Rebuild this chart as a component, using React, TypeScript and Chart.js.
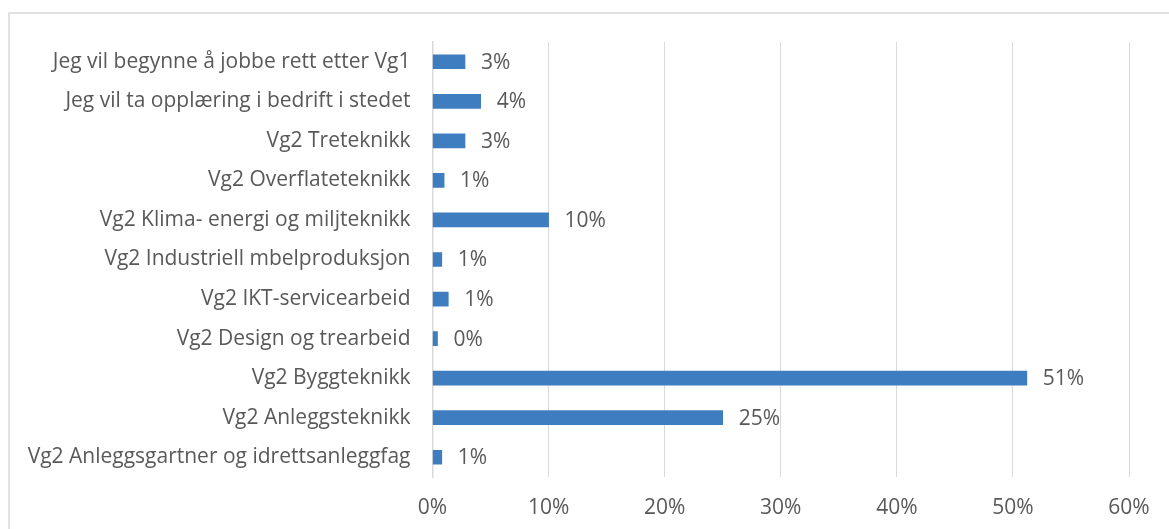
import React, { useEffect, useRef } from "react";
import { Chart, registerables } from "chart.js";

Chart.register(...registerables);

const categories = [
  "Jeg vil begynne å jobbe rett etter Vg1",
  "Jeg vil ta opplæring i bedrift i stedet",
  "Vg2 Treteknikk",
  "Vg2 Overflateteknikk",
  "Vg2 Klima- energi og miljteknikk",
  "Vg2 Industriell mbelproduksjon",
  "Vg2 IKT-servicearbeid",
  "Vg2 Design og trearbeid",
  "Vg2 Byggteknikk",
  "Vg2 Anleggsteknikk",
  "Vg2 Anleggsgartner og idrettsanleggfag",
];

const values = [0.028, 0.0415, 0.028, 0.01, 0.1, 0.008, 0.0136, 0.0043, 0.512, 0.25, 0.008];

const xTicks = [0, 0.1, 0.2, 0.3, 0.4, 0.5, 0.6];

const FONT = "'Open Sans', sans-serif";
const SIZE = 21;
const GRAY = "#595959";

const borderPlugin = {
  id: "outerBorder",
  beforeDraw(chart: any) {
    const ctx = chart.ctx;
    ctx.save();
    ctx.fillStyle = "#ffffff";
    ctx.fillRect(0, 0, chart.width, chart.height);
    ctx.strokeStyle = "#D9D9D9";
    ctx.lineWidth = 1.5;
    ctx.strokeRect(9, 13, chart.width + 20, chart.height + 20);
    ctx.restore();
  },
};

const labelPlugin = {
  id: "valueLabels",
  afterDatasetsDraw(chart: any) {
    const ctx = chart.ctx;
    const meta = chart.getDatasetMeta(0);
    ctx.save();
    ctx.font = `${SIZE}px ${FONT}`;
    ctx.fillStyle = GRAY;
    ctx.textAlign = "left";
    ctx.textBaseline = "middle";
    meta.data.forEach((bar: any, i: number) => {
      const v = values[i];
      ctx.fillText(Math.round(v * 100) + "%", bar.x + 16, bar.y + 1);
    });
    ctx.restore();
  },
};

export default function App() {
  const ref = useRef<HTMLCanvasElement | null>(null);
  useEffect(() => {
    if (!ref.current) return;
    const chart = new Chart(ref.current, {
      type: "bar",
      data: {
        labels: categories,
        datasets: [
          {
            data: values,
            backgroundColor: "#3F7DC1",
            barThickness: 14,
          },
        ],
      },
      options: {
        indexAxis: "y",
        animation: false,
        responsive: false,
        maintainAspectRatio: false,
        layout: { padding: { left: 0, right: 40, top: 42, bottom: 0 } },
        plugins: {
          legend: { display: false },
          tooltip: { enabled: false },
        },
        scales: {
          x: {
            min: 0,
            max: 0.6,
            afterBuildTicks(scale: any) {
              scale.ticks = xTicks.map((v) => ({ value: v }));
            },
            afterFit(scale: any) {
              scale.height = 52;
            },
            grid: { color: "#D9D9D9", lineWidth: 1, drawTicks: false },
            border: { display: false },
            ticks: {
              padding: 18,
              color: GRAY,
              font: { family: FONT, size: SIZE },
              callback: (v: any) => Math.round(Number(v) * 100) + "%",
            },
          },
          y: {
            afterFit(scale: any) {
              scale.width = 432.5;
            },
            grid: { display: false, drawTicks: false },
            border: { display: true, color: "#D9D9D9", width: 1.5 },
            ticks: {
              padding: 22,
              color: GRAY,
              font: { family: FONT, size: SIZE },
            },
          },
        },
      },
      plugins: [borderPlugin, labelPlugin],
    });
    return () => chart.destroy();
  }, []);
  return (
    <div style={{ position: "fixed", left: 0, top: 0, width: 1169, height: 529 }}>
      <canvas ref={ref} width={1169} height={529} style={{ width: 1169, height: 529 }} />
    </div>
  );
}
